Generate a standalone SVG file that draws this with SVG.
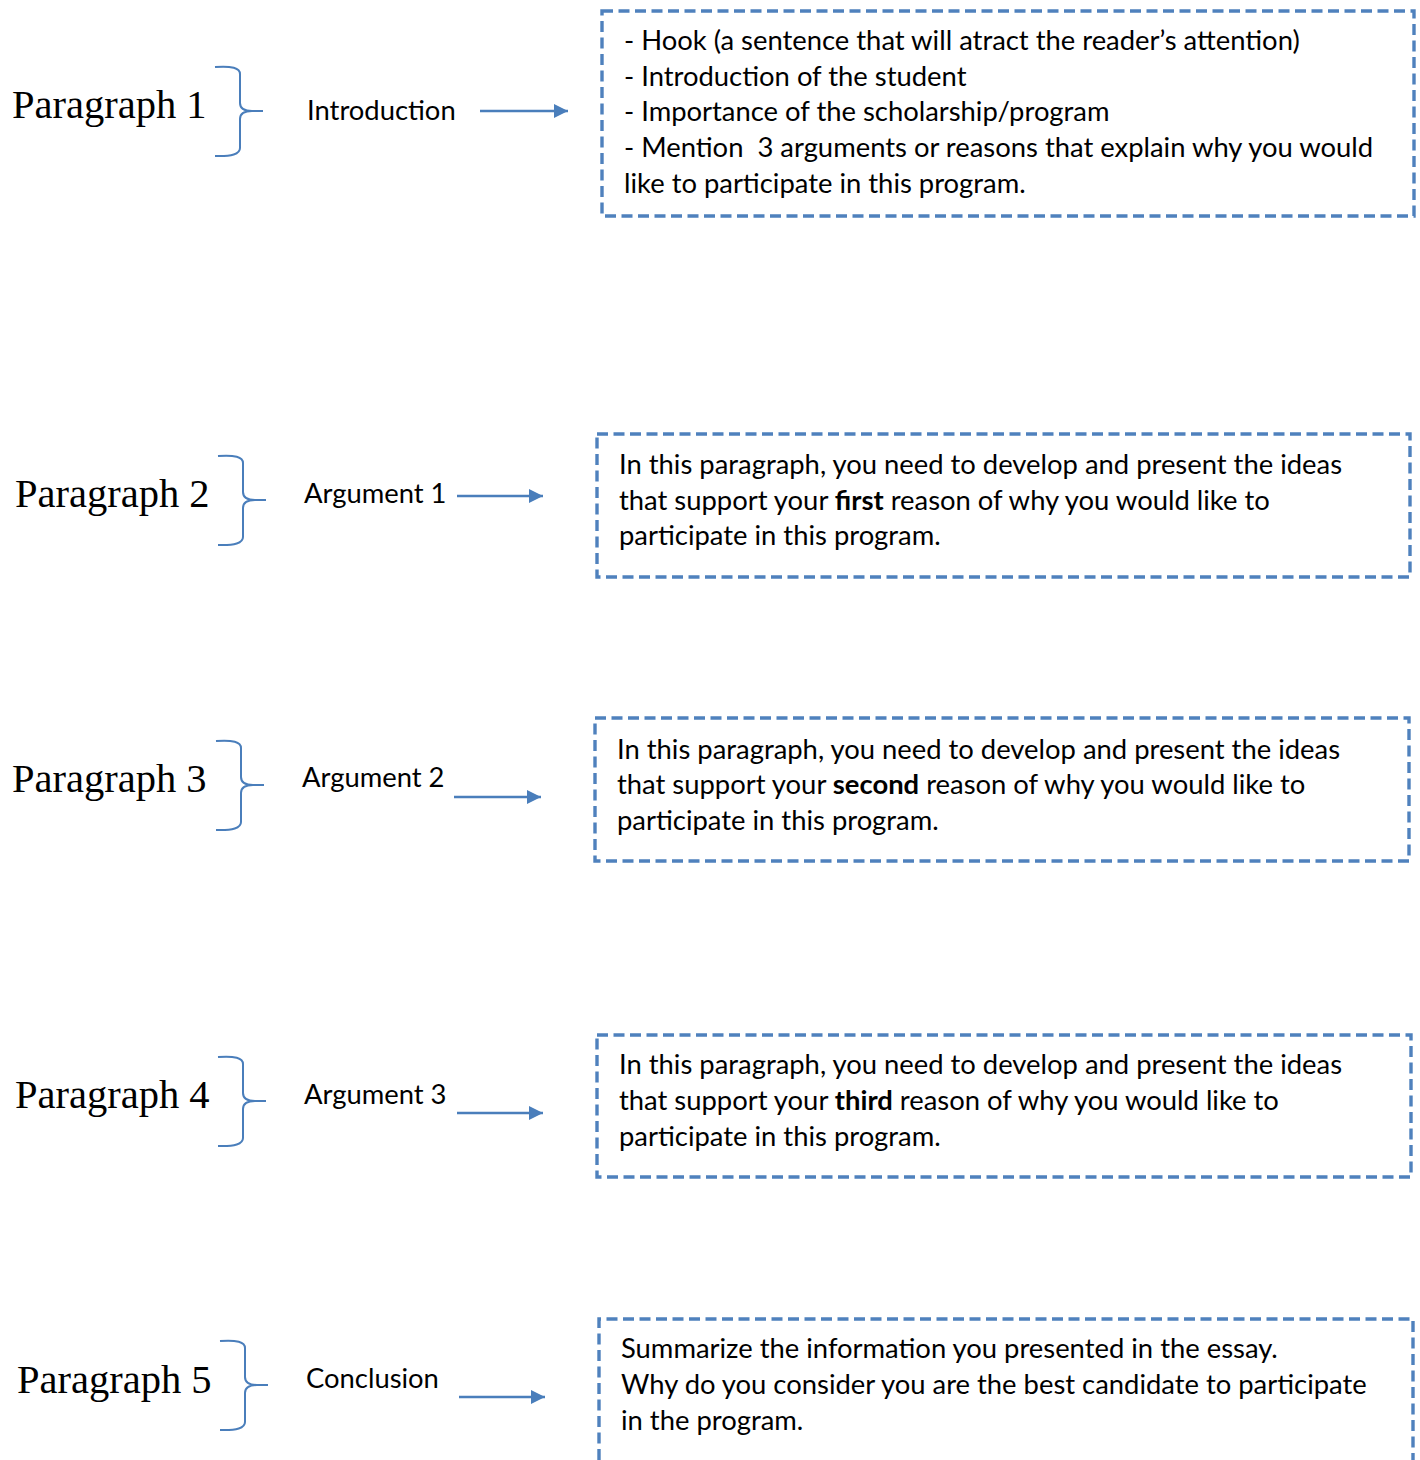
<svg xmlns="http://www.w3.org/2000/svg" width="1420" height="1460" viewBox="0 0 1420 1460">
<defs>
<style>
.para{font-family:"Liberation Serif","DejaVu Serif",serif;font-size:40.5px;fill:#000}
.lbl{font-family:Lato,"Liberation Sans",sans-serif;font-size:27.4px;fill:#000}
.txt{font-family:Lato,"Liberation Sans",sans-serif;font-size:27.4px;fill:#000}
.brace{fill:none;stroke:#4A7EBB;stroke-width:2}
.box{fill:none;stroke:#4F81BD;stroke-width:3.4;stroke-dasharray:11 5.5}
.arrow{stroke:#4A7EBB;stroke-width:2.6;fill:none}
</style>
<marker id="ah" viewBox="0 0 14 14" refX="14" refY="7" markerWidth="14" markerHeight="14" markerUnits="userSpaceOnUse" orient="auto">
<path d="M0,0 L14,7 L0,14 z" fill="#4A7EBB"/>
</marker>
</defs>
<rect width="1420" height="1460" fill="#fff"/>

<g id="row1">
<text class="para" x="12" y="118">Paragraph 1</text>
<path class="brace" d="M215,67 Q240,65 240,74 V103 Q240,111 252,111 H263 M252,111 Q240,111 240,119 V148 Q240,157 215,156"/>
<text class="lbl" x="307" y="120">Introduction</text>
<rect class="box" x="602" y="11" width="812" height="205"/>
<text class="txt" x="624" y="50">- Hook (a sentence that will atract the reader’s attention)</text>
<text class="txt" x="624" y="86">- Introduction of the student</text>
<text class="txt" x="624" y="121">- Importance of the scholarship/program</text>
<text class="txt" x="624" y="157" xml:space="preserve">- Mention  3 arguments or reasons that explain why you would</text>
<text class="txt" x="624" y="193">like to participate in this program.</text>
</g>

<g id="row2">
<text class="para" x="15" y="507">Paragraph 2</text>
<path class="brace" d="M218,456 Q243,454 243,463 V492 Q243,500 255,500 H266 M255,500 Q243,500 243,508 V537 Q243,546 218,545"/>
<text class="lbl" x="304" y="503">Argument 1</text>
<rect class="box" x="597" y="434" width="813" height="143"/>
<text class="txt" x="619" y="474">In this paragraph, you need to develop and present the ideas</text>
<text class="txt" x="619" y="510">that support your <tspan font-weight="bold">first</tspan> reason of why you would like to</text>
<text class="txt" x="619" y="545">participate in this program.</text>
</g>

<g id="row3">
<text class="para" x="12" y="792">Paragraph 3</text>
<path class="brace" d="M216,741 Q241,739 241,748 V777 Q241,785 253,785 H264 M253,785 Q241,785 241,793 V822 Q241,831 216,830"/>
<text class="lbl" x="302" y="787">Argument 2</text>
<rect class="box" x="595" y="718" width="814" height="143"/>
<text class="txt" x="617" y="759">In this paragraph, you need to develop and present the ideas</text>
<text class="txt" x="617" y="794">that support your <tspan font-weight="bold">second</tspan> reason of why you would like to</text>
<text class="txt" x="617" y="830">participate in this program.</text>
</g>

<g id="row4">
<text class="para" x="15" y="1108">Paragraph 4</text>
<path class="brace" d="M218,1057 Q243,1055 243,1064 V1093 Q243,1101 255,1101 H266 M255,1101 Q243,1101 243,1109 V1138 Q243,1147 218,1146"/>
<text class="lbl" x="304" y="1104">Argument 3</text>
<rect class="box" x="597" y="1035" width="814" height="142"/>
<text class="txt" x="619" y="1074">In this paragraph, you need to develop and present the ideas</text>
<text class="txt" x="619" y="1110">that support your <tspan font-weight="bold">third</tspan> reason of why you would like to</text>
<text class="txt" x="619" y="1146">participate in this program.</text>
</g>

<g id="row5">
<text class="para" x="17" y="1393">Paragraph 5</text>
<path class="brace" d="M220,1341 Q245,1339 245,1348 V1377 Q245,1385 257,1385 H268 M257,1385 Q245,1385 245,1393 V1422 Q245,1431 220,1430"/>
<text class="lbl" x="306" y="1388">Conclusion</text>
<path class="box" d="M599,1460 V1319 H1413 V1460"/>
<text class="txt" x="621" y="1358">Summarize the information you presented in the essay.</text>
<text class="txt" x="621" y="1394">Why do you consider you are the best candidate to participate</text>
<text class="txt" x="621" y="1430">in the program.</text>
</g>

<g id="connectors">
<line class="arrow" x1="480" y1="111" x2="568" y2="111" marker-end="url(#ah)"/>
<line class="arrow" x1="457" y1="496" x2="543" y2="496" marker-end="url(#ah)"/>
<line class="arrow" x1="454" y1="797" x2="541" y2="797" marker-end="url(#ah)"/>
<line class="arrow" x1="457" y1="1113" x2="543" y2="1113" marker-end="url(#ah)"/>
<line class="arrow" x1="459" y1="1397" x2="545" y2="1397" marker-end="url(#ah)"/>
</g>
</svg>
